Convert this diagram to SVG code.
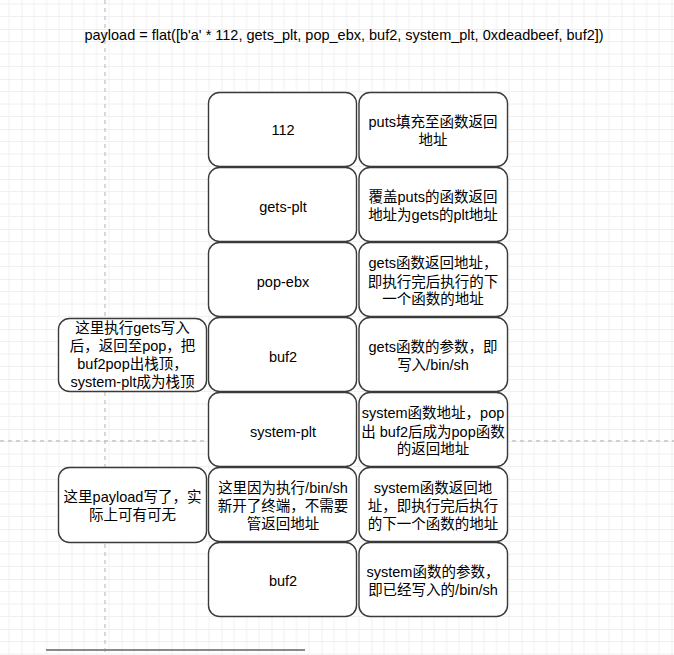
<svg xmlns="http://www.w3.org/2000/svg" width="674" height="655" viewBox="0 0 674 655">
<defs>
<pattern id="grid" patternUnits="userSpaceOnUse" x="21.5" y="29" width="50" height="50">
<path d="M12.5 0V50M25 0V50M37.5 0V50M0 12.5H50M0 25H50M0 37.5H50" stroke="#f0f0f0" stroke-width="1" fill="none"/>
<path d="M0 0V50M0 0H50" stroke="#e0e0e0" stroke-width="1" fill="none"/>
</pattern>
</defs>
<style>
.box{fill:#fff;stroke:#3a3a3a;stroke-width:1.4}
text{font-family:"Liberation Sans","Noto Sans CJK SC",sans-serif;font-size:14.5px;fill:#000;text-anchor:middle}
.pb{stroke:#c4c4c4;stroke-width:1.3;stroke-dasharray:4 4;fill:none}
</style>
<rect width="674" height="655" fill="#fff"/>
<rect width="674" height="655" fill="url(#grid)"/>
<path class="pb" d="M105 0V655"/>
<path class="pb" d="M0 441H674"/>
<line x1="46" y1="650" x2="305" y2="650" stroke="#8a8a8a" stroke-width="2"/>

<g id="title"><text x="344" y="40">payload = flat([b'a' * 112, gets_plt, pop_ebx, buf2, system_plt, 0xdeadbeef, buf2])</text></g>

<g id="r1a"><rect class="box" x="208.5" y="92.5" width="148" height="74" rx="11"/><text x="283" y="135">112</text></g>
<g id="r1b"><rect class="box" x="359" y="92.5" width="148.5" height="74" rx="11"/><text x="433" y="127">puts填充至函数返回</text><text x="433" y="145">地址</text></g>

<g id="r2a"><rect class="box" x="208.5" y="167.5" width="148" height="74" rx="11"/><text x="283" y="211.5">gets-plt</text></g>
<g id="r2b"><rect class="box" x="359" y="167.5" width="148.5" height="74" rx="11"/><text x="433" y="201.5">覆盖puts的函数返回</text><text x="433" y="220">地址为gets的plt地址</text></g>

<g id="r3a"><rect class="box" x="208.5" y="242.5" width="148" height="74" rx="11"/><text x="283" y="286.5">pop-ebx</text></g>
<g id="r3b"><rect class="box" x="359" y="242.5" width="148.5" height="74" rx="11"/><text x="433" y="268">gets函数返回地址，</text><text x="433" y="286.5">即执行完后执行的下</text><text x="433" y="304">一个函数的地址</text></g>

<g id="r4a"><rect class="box" x="208.5" y="317.5" width="148" height="74" rx="11"/><text x="283" y="361.5">buf2</text></g>
<g id="r4b"><rect class="box" x="359" y="317.5" width="148.5" height="74" rx="11"/><text x="433" y="351.5">gets函数的参数，即</text><text x="433" y="370">写入/bin/sh</text></g>

<g id="r5a"><rect class="box" x="208.5" y="392.5" width="148" height="74" rx="11"/><text x="283" y="436.5">system-plt</text></g>
<g id="r5b"><rect class="box" x="359" y="392.5" width="148.5" height="74" rx="11"/><text x="433" y="418">system函数地址，pop</text><text x="433" y="436.5">出 buf2后成为pop函数</text><text x="433" y="454">的返回地址</text></g>

<g id="r6a"><rect class="box" x="208.5" y="467.5" width="148" height="74" rx="11"/><text x="283" y="493">这里因为执行/bin/sh</text><text x="283" y="511">新开了终端，不需要</text><text x="283" y="529">管返回地址</text></g>
<g id="r6b"><rect class="box" x="359" y="467.5" width="148.5" height="74" rx="11"/><text x="433" y="493">system函数返回地</text><text x="433" y="511">址，即执行完后执行</text><text x="433" y="529">的下一个函数的地址</text></g>

<g id="r7a"><rect class="box" x="208.5" y="542.5" width="148" height="74" rx="11"/><text x="283" y="585.5">buf2</text></g>
<g id="r7b"><rect class="box" x="359" y="542.5" width="148.5" height="74" rx="11"/><text x="433" y="576.5">system函数的参数，</text><text x="433" y="595">即已经写入的/bin/sh</text></g>

<g id="note1"><rect class="box" x="58.5" y="318.5" width="148" height="73" rx="11"/><text x="132.5" y="333">这里执行gets写入</text><text x="132.5" y="351">后，返回至pop，把</text><text x="132.5" y="369">buf2pop出栈顶，</text><text x="132.5" y="387">system-plt成为栈顶</text></g>
<g id="note2"><rect class="box" x="58.5" y="467.5" width="148" height="75" rx="11"/><text x="132.5" y="501.5">这里payload写了，实</text><text x="132.5" y="519.5">际上可有可无</text></g>
</svg>
